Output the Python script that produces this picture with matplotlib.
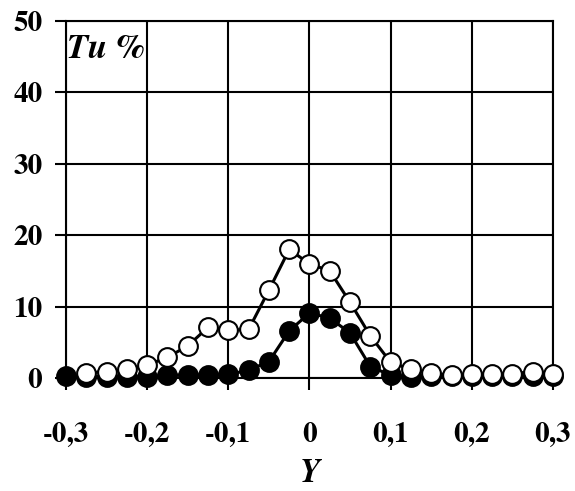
import matplotlib
matplotlib.use('Agg')
import matplotlib.pyplot as plt
from matplotlib.ticker import FuncFormatter, MultipleLocator

plt.rcParams['font.family'] = ['TeX Gyre Termes', 'FreeSerif', 'Liberation Serif', 'DejaVu Serif']
plt.rcParams['axes.unicode_minus'] = False

# profile positions, step 0.025
y_pos = [-0.3, -0.275, -0.25, -0.225, -0.2, -0.175, -0.15, -0.125, -0.1,
         -0.075, -0.05, -0.025, 0.0, 0.025, 0.05, 0.075, 0.1, 0.125, 0.15,
         0.175, 0.2, 0.225, 0.25, 0.275, 0.3]

# turbulence intensity, open circles (starts at -0.275)
tu_open = [0.7, 0.9, 1.2, 1.8, 2.9, 4.5, 7.1, 6.7, 6.8, 12.3, 18.0, 16.0,
           15.0, 10.6, 5.9, 2.2, 1.2, 0.7, 0.4, 0.5, 0.6, 0.6, 0.9, 0.6]

# turbulence intensity, filled circles
tu_filled = [0.3, 0.2, 0.2, 0.2, 0.2, 0.4, 0.4, 0.4, 0.5, 1.1, 2.3, 6.6, 9.1,
             8.4, 6.3, 1.6, 0.4, 0.2, 0.3, 0.3, 0.3, 0.3, 0.3, 0.3, 0.3]

fig = plt.figure(figsize=(5.75, 4.91), dpi=100)
ax = fig.add_axes([0.1148, 0.2301, 0.8469, 0.7271])

ax.plot(y_pos, tu_filled, color='black', lw=2.2, marker='o', ms=13.5,
        mfc='black', mec='black', mew=1.5, zorder=3, clip_on=False)
ax.plot(y_pos[1:], tu_open, color='black', lw=2.2, marker='o', ms=13.5,
        mfc='white', mec='black', mew=1.5, zorder=4, clip_on=False)

ax.set_xlim(-0.3, 0.3)
ax.set_ylim(0, 50)
ax.xaxis.set_major_locator(MultipleLocator(0.1))
ax.yaxis.set_major_locator(MultipleLocator(10))


def comma_fmt(v, pos):
    if abs(v) < 1e-9:
        return '0'
    return ('%.1f' % v).replace('.', ',')


ax.xaxis.set_major_formatter(FuncFormatter(comma_fmt))
ax.grid(True, color='black', lw=1.5)
for s in ax.spines.values():
    s.set_linewidth(1.5)

ax.tick_params(axis='x', direction='out', length=8.5, width=1.5, pad=23,
               labelsize=21)
ax.tick_params(axis='y', direction='out', length=8, width=1.5, pad=9,
               labelsize=21)
for lab in ax.get_xticklabels() + ax.get_yticklabels():
    lab.set_fontweight('bold')

ax.set_xlabel('Y', fontsize=24, fontweight='bold', style='italic', labelpad=7)
ax.text(0.003, 0.92, 'Tu %', transform=ax.transAxes, fontsize=25,
        fontweight='bold', style='italic', va='center', ha='left')

fig.savefig('out.png', dpi=100)
